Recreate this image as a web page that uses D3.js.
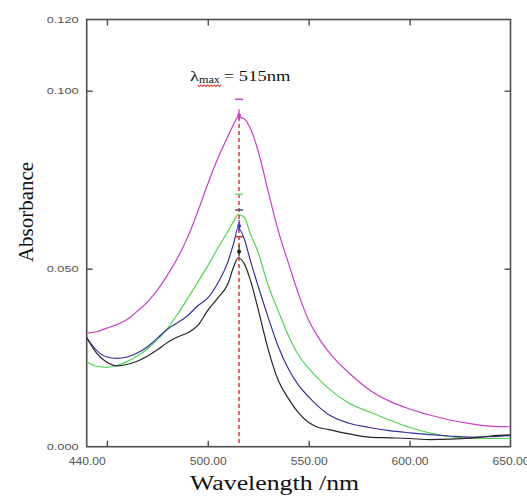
<!DOCTYPE html>
<html>
<head>
<meta charset="utf-8">
<script src="https://cdn.jsdelivr.net/npm/d3@7"></script>
<style>
  body { margin: 0; background: #fff; }
  svg { display: block; }
</style>
</head>
<body>
<div id="container"></div>
<script>
const width = 527;
const height = 497;
const margin = {top: 19.5, right: 16.5, bottom: 50.3, left: 86.7};

// wavelength grid (nm) shared by all spectra
const wavelengths = [440, 445, 450, 455, 460, 465, 470, 475, 480, 485, 490, 495, 500, 505, 510, 513, 515, 518, 521, 525,
                     530, 535, 540, 545, 550, 555, 560, 570, 580, 590, 600, 610, 620, 630, 640, 650];

const absMagenta = [.0319, .0323, .0333, .0343, .0357, .0380, .0406, .0440, .0482, .0530, .0588, .0660, .0738, .0810, .0872, .0908, .0926, .0921, .0895, .0830,
                    .0715, .0605, .0515, .0428, .0355, .0305, .0266, .0207, .0160, .0128, .0106, .0089, .0075, .0065, .0058, .0056];
const absGreen   = [.0238, .0226, .0223, .0228, .0239, .0255, .0274, .0300, .0332, .0372, .0416, .0462, .0508, .0558, .0605, .0635, .0652, .0645, .0600, .0545,
                    .0452, .0380, .0312, .0257, .0220, .0190, .0163, .0122, .0098, .0075, .0054, .0039, .0028, .0024, .0023, .0023];
const absBlue    = [.0306, .0270, .0252, .0248, .0252, .0263, .0280, .0305, .0330, .0348, .0368, .0396, .0418, .0460, .0520, .0575, .0615, .0585, .0525, .0450,
                    .0362, .0280, .0218, .0172, .0140, .0112, .0090, .0066, .0054, .0045, .0039, .0034, .0030, .0027, .0028, .0031];
const absBlack   = [.0306, .0262, .0237, .0227, .0231, .0240, .0254, .0272, .0293, .0308, .0320, .0340, .0383, .0418, .0458, .0508, .0530, .0515, .0470, .0385,
                    .0272, .0185, .0135, .0095, .0068, .0054, .0048, .0036, .0027, .0025, .0023, .0020, .0021, .0024, .0030, .0033];

const lambdaMax = 515;

// cursor marks drawn along the lambda max line
const markValues = [0.0976, 0.0931, 0.0709, 0.0665, 0.0620, 0.0590, 0.0548];
const markKinds  = ['dash', 'dot', 'dash', 'dash', 'dot', 'dash', 'dot'];

const xTickValues = [450, 500, 550, 600];
const xLabelValues = [440, 500, 550, 600, 650];
const yTickValues = [0.05, 0.1];
const yLabelValues = [0, 0.05, 0.1, 0.12];

const seriesList = [
  {values: absMagenta, color: '#c63fc9'},
  {values: absGreen, color: '#55d255'},
  {values: absBlue, color: '#34349c'},
  {values: absBlack, color: '#252525'}
];
const markColors = ['#d040d0', '#c63fc9', '#6ad66a', '#3e5a7a', '#3a3ad0', '#c0303a', '#222'];

const svg = d3.select('#container')
  .append('svg')
  .attr('width', width)
  .attr('height', height);

const x = d3.scaleLinear().domain([440, 650]).range([margin.left, width - margin.right]);
const y = d3.scaleLinear().domain([0, 0.12]).range([height - margin.bottom, margin.top]);

const frameColor = '#4d4d4d';

// tick marks, pointing inward on all four sides
function styleTicks(g) {
  g.select('.domain').remove();
  g.selectAll('.tick line').attr('stroke', frameColor).attr('stroke-width', 1.4);
}
svg.append('g')
  .attr('transform', 'translate(0,' + y(0) + ')')
  .call(d3.axisBottom(x).tickValues(xTickValues).tickSize(-6).tickFormat(''))
  .call(styleTicks);
svg.append('g')
  .attr('transform', 'translate(0,' + y(0.12) + ')')
  .call(d3.axisTop(x).tickValues(xTickValues).tickSize(-6).tickFormat(''))
  .call(styleTicks);
svg.append('g')
  .attr('transform', 'translate(' + x(440) + ',0)')
  .call(d3.axisLeft(y).tickValues(yTickValues).tickSize(-6).tickFormat(''))
  .call(styleTicks);
svg.append('g')
  .attr('transform', 'translate(' + x(650) + ',0)')
  .call(d3.axisRight(y).tickValues(yTickValues).tickSize(-6).tickFormat(''))
  .call(styleTicks);

// tick labels
const xLabels = svg.append('g')
  .attr('transform', 'translate(0,' + (y(0) + 8) + ')')
  .call(d3.axisBottom(x).tickValues(xLabelValues).tickSize(0).tickFormat(d3.format('.2f')));
xLabels.select('.domain').remove();
xLabels.selectAll('text')
  .attr('font-family', 'Liberation Sans, Arial, sans-serif')
  .attr('font-size', 10)
  .attr('fill', '#555')
  .attr('textLength', 37)
  .attr('lengthAdjust', 'spacingAndGlyphs');

const yLabels = svg.append('g')
  .attr('transform', 'translate(' + (x(440) - 5) + ',0)')
  .call(d3.axisLeft(y).tickValues(yLabelValues).tickSize(0).tickFormat(d3.format('.3f')));
yLabels.select('.domain').remove();
yLabels.selectAll('text')
  .attr('font-family', 'Liberation Sans, Arial, sans-serif')
  .attr('font-size', 9)
  .attr('fill', '#555')
  .attr('textLength', 32)
  .attr('lengthAdjust', 'spacingAndGlyphs');

// frame
svg.append('rect')
  .attr('x', x(440))
  .attr('y', y(0.12))
  .attr('width', x(650) - x(440))
  .attr('height', y(0) - y(0.12))
  .attr('fill', 'none')
  .attr('stroke', frameColor)
  .attr('stroke-width', 1.6);

// spectra
const line = d3.line()
  .x((d, i) => x(wavelengths[i]))
  .y(d => y(d))
  .curve(d3.curveMonotoneX);

svg.selectAll('path.spectrum')
  .data(seriesList)
  .enter()
  .append('path')
  .attr('class', 'spectrum')
  .attr('d', d => line(d.values))
  .attr('fill', 'none')
  .attr('stroke', d => d.color)
  .attr('stroke-width', 1.2);

// lambda max dashed line
svg.append('line')
  .attr('x1', x(lambdaMax) + 1)
  .attr('x2', x(lambdaMax) + 1)
  .attr('y1', y(d3.max(absMagenta)))
  .attr('y2', y(0))
  .attr('stroke', '#e8262a')
  .attr('stroke-width', 1.4)
  .attr('stroke-dasharray', '4,3');

// cursor marks
markValues.forEach((v, i) => {
  const cx = x(lambdaMax) + 1;
  if (markKinds[i] === 'dash') {
    svg.append('line')
      .attr('x1', cx - 4).attr('x2', cx + 4)
      .attr('y1', y(v)).attr('y2', y(v))
      .attr('stroke', markColors[i])
      .attr('stroke-width', 1.5);
  } else {
    svg.append('line')
      .attr('x1', cx).attr('x2', cx)
      .attr('y1', y(v) - 6).attr('y2', y(v) + 5)
      .attr('stroke', markColors[i])
      .attr('stroke-width', 1.2);
    svg.append('circle')
      .attr('cx', cx).attr('cy', y(v))
      .attr('r', 2)
      .attr('fill', markColors[i]);
  }
});

// annotation
const note = svg.append('g')
  .attr('transform', 'translate(190,81) scale(1.28,1)');
const noteText = note.append('text')
  .attr('font-family', 'Liberation Serif, Times New Roman, serif')
  .attr('font-size', 14.5)
  .attr('fill', '#111');
noteText.append('tspan').text('λ');
noteText.append('tspan').attr('font-size', 9.5).attr('dy', 2).text('max');
noteText.append('tspan').attr('dy', -2).attr('dx', 3).text('= 515nm');
note.append('path')
  .attr('d', d3.range(0, 15).map(i => (i === 0 ? 'M' : 'L') + (6 + i * 1.3) + ',' + (i % 2 ? 5.5 : 3.8)).join(''))
  .attr('fill', 'none')
  .attr('stroke', '#e02020')
  .attr('stroke-width', 0.8);

// axis titles
svg.append('text')
  .attr('x', (x(440) + x(650)) / 2 - 24)
  .attr('y', 490)
  .attr('text-anchor', 'middle')
  .attr('font-family', 'Liberation Serif, Times New Roman, serif')
  .attr('font-size', 20)
  .attr('fill', '#111')
  .attr('textLength', 169)
  .attr('lengthAdjust', 'spacingAndGlyphs')
  .text('Wavelength /nm');

svg.append('text')
  .attr('transform', 'translate(33,212) rotate(-90)')
  .attr('text-anchor', 'middle')
  .attr('font-family', 'Liberation Serif, Times New Roman, serif')
  .attr('font-size', 22)
  .attr('fill', '#111')
  .attr('textLength', 100)
  .attr('lengthAdjust', 'spacingAndGlyphs')
  .text('Absorbance');
</script>
</body>
</html>
